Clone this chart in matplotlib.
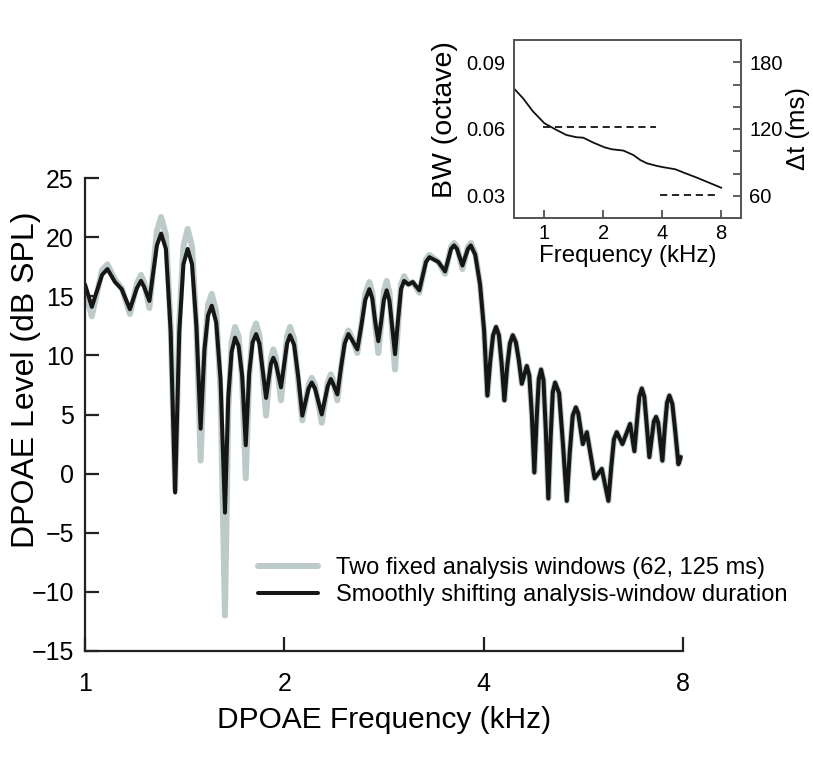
import matplotlib
matplotlib.use("Agg")
import matplotlib.pyplot as plt

plt.rcParams['font.family'] = ['Liberation Sans', 'DejaVu Sans']

# ---- main panel data ----
freq_khz = [1.000, 1.024, 1.061, 1.081, 1.110, 1.136, 1.169, 1.198, 1.215, 1.228,
            1.251, 1.284, 1.303, 1.325, 1.347, 1.368, 1.388, 1.408, 1.429, 1.451,
            1.473, 1.495, 1.515, 1.534, 1.554, 1.578, 1.602, 1.627, 1.646, 1.665,
            1.685, 1.706, 1.727, 1.749, 1.770, 1.791, 1.813, 1.834, 1.877, 1.909,
            1.925, 1.942, 1.977, 2.019, 2.040, 2.069, 2.099, 2.129, 2.176, 2.200,
            2.225, 2.278, 2.326, 2.351, 2.369, 2.405, 2.436, 2.467, 2.499, 2.525,
            2.578, 2.614, 2.650, 2.688, 2.716, 2.744, 2.773, 2.800, 2.827, 2.855,
            2.883, 2.911, 2.939, 2.970, 3.001, 3.033, 3.079, 3.126, 3.198, 3.273,
            3.312, 3.417, 3.498, 3.571, 3.609, 3.645, 3.715, 3.787, 3.825, 3.885,
            3.950, 4.006, 4.052, 4.092, 4.133, 4.176, 4.218, 4.258, 4.299, 4.340,
            4.382, 4.426, 4.474, 4.520, 4.567, 4.647, 4.688, 4.729, 4.771, 4.808,
            4.845, 4.884, 4.925, 4.966, 5.009, 5.048, 5.087, 5.128, 5.200, 5.270,
            5.341, 5.396, 5.452, 5.511, 5.557, 5.647, 5.726, 5.883, 6.032, 6.172,
            6.232, 6.292, 6.354, 6.480, 6.656, 6.756, 6.813, 6.872, 6.932, 6.993,
            7.055, 7.117, 7.228, 7.285, 7.339, 7.447, 7.507, 7.568, 7.630, 7.709,
            7.790, 7.873, 7.939]
level_shift = [16.0, 14.1, 16.8, 17.3, 16.2, 15.6, 13.9, 15.7, 16.3, 15.8,
               14.6, 19.3, 20.3, 19.0, 12.0, -1.6, 12.0, 17.7, 19.0, 17.7,
               12.5, 3.8, 10.5, 13.4, 14.2, 12.8, 8.0, -3.3, 6.5, 10.3,
               11.5, 10.8, 8.3, 2.4, 8.5, 11.1, 11.8, 11.0, 6.4, 9.3,
               9.8, 9.3, 7.3, 11.0, 11.7, 10.9, 8.2, 4.9, 7.2, 7.7,
               7.2, 5.0, 7.4, 8.0, 7.6, 6.7, 9.0, 11.0, 11.8, 11.4,
               10.5, 12.5, 14.7, 15.6, 14.8, 12.8, 11.2, 12.8, 14.7, 15.5,
               14.6, 12.3, 10.1, 13.0, 15.6, 16.3, 16.0, 16.2, 15.5, 17.9,
               18.3, 17.9, 17.1, 19.0, 19.3, 19.0, 17.6, 19.0, 19.3, 18.5,
               16.0, 12.1, 6.6, 9.5, 11.7, 12.4, 11.7, 9.3, 6.2, 9.0,
               11.0, 11.7, 11.1, 9.6, 7.6, 9.1, 8.3, 5.0, 0.1, 4.5,
               8.0, 8.8, 7.9, 3.5, -2.1, 3.0, 6.9, 7.7, 6.8, 2.5,
               -2.3, 1.8, 4.9, 5.6, 5.1, 2.5, 3.5, -0.4, 0.4, -2.3,
               0.5, 2.9, 3.5, 2.5, 4.2, 1.9, 4.3, 6.5, 7.2, 6.5,
               4.0, 1.4, 4.4, 4.8, 4.3, 1.1, 3.8, 6.0, 6.6, 5.9,
               3.5, 0.8, 1.4]
level_fixed = [15.5, 13.3, 17.2, 17.7, 16.4, 15.7, 13.5, 16.1, 16.8, 16.2,
               14.0, 20.5, 21.7, 20.2, 12.5, -1.4, 12.8, 19.2, 20.7, 19.2,
               12.5, 1.1, 10.3, 14.3, 15.2, 13.7, 7.0, -12.0, 5.5, 11.1,
               12.4, 11.6, 7.8, -0.4, 8.2, 11.9, 12.7, 11.7, 4.9, 9.8,
               10.5, 9.8, 6.2, 11.6, 12.4, 11.4, 7.8, 4.5, 7.5, 8.1,
               7.5, 4.3, 7.7, 8.4, 7.9, 6.2, 8.9, 11.3, 12.1, 11.6,
               10.2, 12.6, 15.2, 16.2, 15.3, 12.5, 10.2, 12.6, 15.4, 16.3,
               15.3, 11.8, 8.8, 12.5, 16.0, 16.7, 16.0, 16.2, 15.3, 18.1,
               18.5, 17.9, 16.9, 19.2, 19.5, 19.2, 17.3, 19.2, 19.5, 18.6,
               16.0, 12.1, 6.6, 9.5, 11.7, 12.4, 11.7, 9.3, 6.2, 9.0,
               11.0, 11.7, 11.1, 9.6, 7.6, 9.1, 8.3, 5.0, 0.1, 4.5,
               8.0, 8.8, 7.9, 3.5, -2.1, 3.0, 6.9, 7.7, 6.8, 2.5,
               -2.3, 1.8, 4.9, 5.6, 5.1, 2.5, 3.5, -0.4, 0.4, -2.3,
               0.5, 2.9, 3.5, 2.5, 4.2, 1.9, 4.3, 6.5, 7.2, 6.5,
               4.0, 1.4, 4.4, 4.8, 4.3, 1.1, 3.8, 6.0, 6.6, 5.9,
               3.5, 0.8, 1.4]
x_ticks = [1, 2, 4, 8]
y_ticks = [-15, -10, -5, 0, 5, 10, 15, 20, 25]
legend_labels = ["Two fixed analysis windows (62, 125 ms)",
                 "Smoothly shifting analysis-window duration"]

# ---- inset data ----
bw_freq = [0.696, 0.777, 0.875, 1.0, 1.152, 1.297, 1.459, 1.579, 1.777, 2.024, 2.207,
           2.533, 2.850, 3.084, 3.337, 3.756, 4.064, 4.666, 5.148, 6.025, 7.052, 8.0]
bw_oct = [0.0784, 0.0739, 0.0679, 0.0626, 0.0596, 0.0573, 0.0563, 0.0561, 0.0539,
          0.0518, 0.0509, 0.0503, 0.0483, 0.0461, 0.0446, 0.0434, 0.0428, 0.0419,
          0.0404, 0.0381, 0.0356, 0.0336]
win_long_freq = [0.98, 3.71]
win_long_ms = [121.5, 121.5]
win_short_freq = [3.9, 7.8]
win_short_ms = [60.6, 60.6]
bw_ticks = [0.03, 0.06, 0.09]
bw_labels = ['0.03', '0.06', '0.09']
dt_ticks = [60, 80, 100, 120, 140, 160, 180]
dt_labels = ["60", "", "", "120", "", "", "180"]

W, H = 813, 761
fig = plt.figure(figsize=(W / 100, H / 100), dpi=100)

ax = fig.add_axes([85 / W, 1 - 651 / H, (683 - 85) / W, (651 - 178) / H])
ax.set_xscale('log', base=2)
ax.plot(freq_khz, level_fixed, color='#bccaca', lw=4.3, solid_joinstyle='round',
        solid_capstyle='round', label=legend_labels[0])
ax.plot(freq_khz, level_shift, color='#161616', lw=2.9, solid_joinstyle='round',
        solid_capstyle='round', label=legend_labels[1])
ax.set_xlim(1, 8)
ax.set_ylim(-15, 25)
ax.set_xticks(x_ticks)
ax.set_xticklabels([str(t) for t in x_ticks])
ax.minorticks_off()
ax.set_yticks(y_ticks)
ax.set_yticklabels([str(t).replace('-', '\u2212') for t in y_ticks])
for s in ['top', 'right']:
    ax.spines[s].set_visible(False)
for s in ['left', 'bottom']:
    ax.spines[s].set_linewidth(1.6)
    ax.spines[s].set_color('#222222')
ax.tick_params(direction='in', length=10, width=1.6, labelsize=18, pad=8, color='#222222')
ax.tick_params(axis='x', pad=15)
ax.set_xlabel('DPOAE Frequency (kHz)', fontsize=21.5, labelpad=7)
ax.set_ylabel('DPOAE Level (dB SPL)', fontsize=23)
ax.yaxis.set_label_coords(-0.074, 0.573)

leg = ax.legend(loc='upper left', bbox_to_anchor=(0.289, 0.199), frameon=False,
                fontsize=17, handlelength=2.55, handletextpad=0.75, borderpad=0,
                borderaxespad=0, labelspacing=0.22)

# ---- inset ----
ax2 = fig.add_axes([514 / W, 1 - 218 / H, (741 - 514) / W, (218 - 40) / H])
ax2.set_xscale('log', base=2)
ax3 = ax2.twinx()

ax2.plot(bw_freq, bw_oct, color='#111111', lw=1.3)
ax3.plot(win_long_freq, win_long_ms, color='#111111', lw=1.3, ls=(0, (4, 2.6)))
ax3.plot(win_short_freq, win_short_ms, color='#111111', lw=1.3, ls=(0, (4, 2.6)))

ax2.set_xlim(0.70, 10.1)
ax2.set_ylim(0.02, 0.10)
ax3.set_ylim(40, 200)
ax2.set_xticks(x_ticks)
ax2.set_xticklabels([str(t) for t in x_ticks])
ax2.xaxis.set_minor_locator(plt.NullLocator())
ax2.set_yticks(bw_ticks)
ax2.set_yticklabels(bw_labels)
ax2.tick_params(axis='y', length=0, labelsize=14.5, pad=6)
ax2.tick_params(axis='x', direction='in', length=6, width=1.2, labelsize=14.5, pad=4,
                color='#444444')
ax2.set_xlabel('Frequency (kHz)', fontsize=17.3, labelpad=2)
ax2.set_ylabel('BW (octave)', fontsize=20.5)
ax2.yaxis.set_label_coords(-0.245, 0.555)

ax3.set_yticks(dt_ticks)
ax3.set_yticklabels(dt_labels)
ax3.tick_params(axis='y', direction='in', length=6, width=1.2, labelsize=14.5, pad=6,
                color='#444444')
ax3.set_ylabel('\u0394t (ms)', fontsize=18.5, labelpad=2)
for a in (ax2, ax3):
    for s in a.spines.values():
        s.set_linewidth(1.3)
        s.set_color('#555555')

fig.savefig('out.png', dpi=100)
